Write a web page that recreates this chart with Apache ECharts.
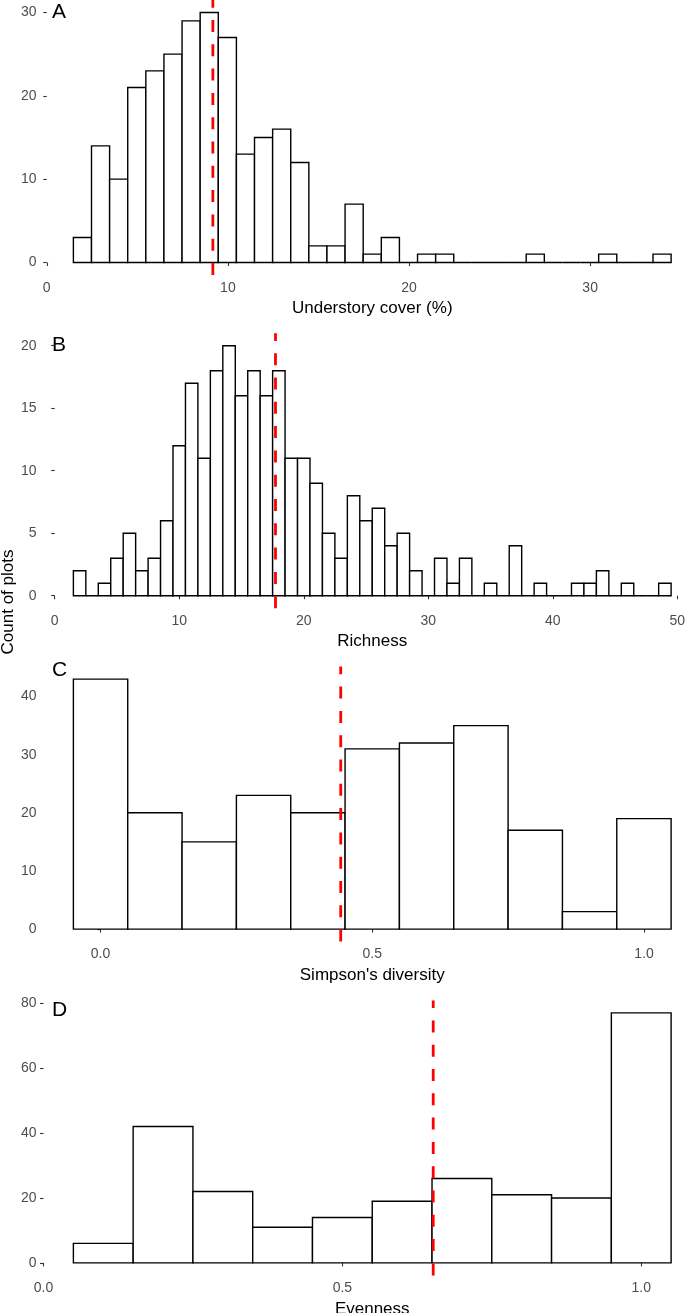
<!DOCTYPE html>
<html><head><meta charset="utf-8">
<script src="https://cdn.jsdelivr.net/npm/echarts@6/dist/echarts.min.js"></script>
<style>html,body{margin:0;padding:0;background:#fff}#c{width:685px;height:1313px}</style>
</head><body><div id="c"></div>
<script>
// ---- Data ----
// A: Understory cover (%), bins of width 1
const coverBinStart = 1.47;
const coverBinWidth = 1;
const coverCounts = [3,14,10,21,23,25,29,30,27,13,15,16,12,2,2,7,1,3,0,1,1,0,0,0,0,1,0,0,0,1,0,0,1];
const coverMean = 9.17;
const coverTicks = [0,10,20,30];
const coverCountTicks = [0,10,20,30];

// B: Richness, bins of width 1 centred on integers 2..49
const richBinStart = 1.5;
const richBinWidth = 1;
const richCounts = [2,0,1,3,5,2,3,6,12,17,11,18,20,16,18,16,18,11,11,9,5,3,8,6,7,4,5,2,0,3,1,3,0,1,0,4,0,1,0,0,1,1,2,0,1,0,0,1];
const richMean = 17.73;
const richTicks = [0,10,20,30,40,50];
const richCountTicks = [0,5,10,15,20];

// C: Simpson's diversity, bins of width 0.1 centred on 0.0..1.0
const simpBinStart = -0.05;
const simpBinWidth = 0.1;
const simpCounts = [43,20,15,23,20,31,32,35,17,3,19];
const simpMean = 0.442;
const simpTicks = [0,0.5,1.0];
const simpCountTicks = [0,10,20,30,40];

// D: Evenness, bins of width 0.1 centred on 0.1..1.0
const evenBinStart = 0.05;
const evenBinWidth = 0.1;
const evenCounts = [6,42,22,11,14,19,26,21,20,77];
const evenMean = 0.652;
const evenTicks = [0,0.5,1.0];
const evenCountTicks = [0,20,40,60,80];

const panelTags = ['A','B','C','D'];
const xTitles = ['Understory cover (%)','Richness',"Simpson's diversity",'Evenness'];
const yTitle = 'Count of plots';

// ---- Build ----
const FONT = '"Liberation Sans", Arial, Helvetica, sans-serif';
const panels = [
  {start: coverBinStart, w: coverBinWidth, counts: coverCounts, mean: coverMean, xt: coverTicks, yt: coverCountTicks, dec: 0},
  {start: richBinStart, w: richBinWidth, counts: richCounts, mean: richMean, xt: richTicks, yt: richCountTicks, dec: 0},
  {start: simpBinStart, w: simpBinWidth, counts: simpCounts, mean: simpMean, xt: simpTicks, yt: simpCountTicks, dec: 1},
  {start: evenBinStart, w: evenBinWidth, counts: evenCounts, mean: evenMean, xt: evenTicks, yt: evenCountTicks, dec: 1}
];
const gridTops = [0, 333.2, 666.6, 1000.4];
const gridH = 275;
const tagTops = [1.5, 334.5, 659.5, 999.5];

const grids = [], xAxes = [], yAxes = [], series = [], graphics = [];
panels.forEach((p, i) => {
  const n = p.counts.length;
  const lo = p.start, hi = p.start + n * p.w;
  const xPad = 0.05 * (hi - lo);
  const yMaxC = Math.max(...p.counts);
  const yMin = -0.05 * yMaxC, yMax = 1.05 * yMaxC;
  grids.push({left: 43.5, top: gridTops[i], width: 657.5, height: gridH, containLabel: false, outerBoundsMode: 'none'});
  xAxes.push({
    type: 'value', gridIndex: i, min: lo - xPad, max: hi + xPad,
    axisLine: {show: false}, splitLine: {show: false},
    axisTick: {show: true, length: 3.5, lineStyle: {color: '#333', width: 1.1}, customValues: p.xt},
    axisLabel: {customValues: p.xt, color: '#4d4d4d', fontSize: 14, fontFamily: FONT, margin: 6,
      formatter: v => Number(v).toFixed(p.dec)},
    name: xTitles[i], nameLocation: 'middle', nameGap: 25,
    nameTextStyle: {color: '#000', fontSize: 17, fontFamily: FONT}
  });
  yAxes.push({
    type: 'value', gridIndex: i, min: yMin, max: yMax,
    axisLine: {show: false}, splitLine: {show: false},
    axisTick: {show: true, length: 3.5, lineStyle: {color: '#333', width: 1.1}, customValues: p.yt},
    axisLabel: {customValues: p.yt, color: '#4d4d4d', fontSize: 14, fontFamily: FONT, margin: 7}
  });
  const data = p.counts.map((c, k) => [p.start + k * p.w, p.start + (k + 1) * p.w, c]);
  series.push({
    type: 'custom', xAxisIndex: i, yAxisIndex: i, data: data,
    encode: {x: [0, 1], y: 2},
    renderItem: function (params, api) {
      const a = api.coord([api.value(0), 0]);
      const b = api.coord([api.value(1), api.value(2)]);
      return {type: 'rect', shape: {x: a[0], y: b[1], width: b[0] - a[0], height: a[1] - b[1]},
        style: {fill: '#fff', stroke: '#000', lineWidth: 1.4}};
    },
    silent: true, animation: false
  });
  series.push({
    type: 'line', xAxisIndex: i, yAxisIndex: i,
    data: [[p.mean, yMin], [p.mean, yMax]],
    showSymbol: false, symbol: 'none', silent: true, animation: false,
    lineStyle: {color: '#ff0000', width: 2.8, type: [12, 12.3]}, z: 5
  });
  graphics.push({type: 'text', left: 52, top: tagTops[i],
    style: {text: panelTags[i], fontSize: 21, fontFamily: FONT, fill: '#000'}});
});
graphics.push({type: 'text', x: 8.5, y: 602, rotation: Math.PI / 2,
  style: {text: yTitle, fontSize: 17, fontFamily: FONT, fill: '#000', align: 'center', verticalAlign: 'middle'}});

const chart = echarts.init(document.getElementById('c'), null, {renderer: 'canvas'});
chart.setOption({
  animation: false, backgroundColor: '#fff',
  grid: grids, xAxis: xAxes, yAxis: yAxes, series: series, graphic: graphics
});
</script></body></html>
